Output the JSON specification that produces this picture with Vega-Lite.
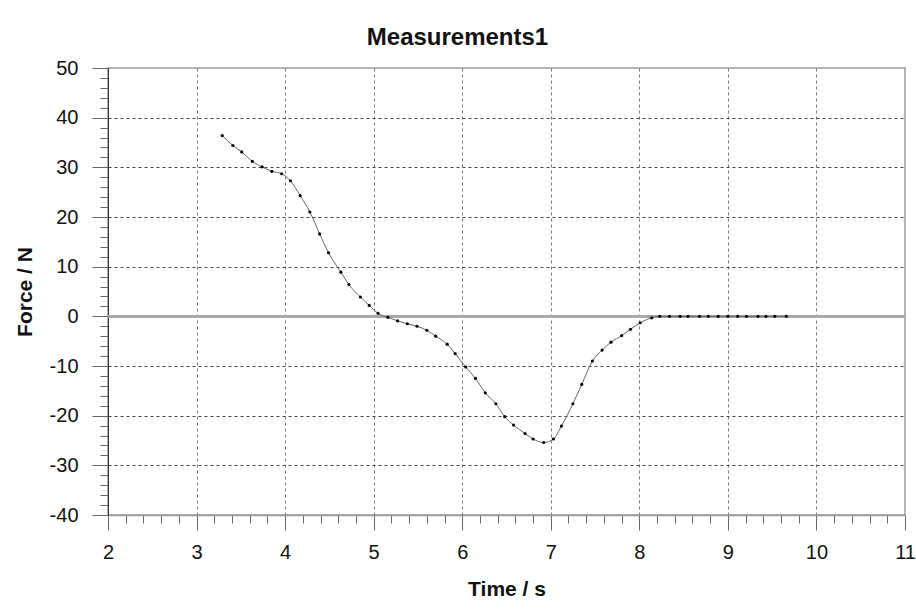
{
  "$schema": "https://vega.github.io/schema/vega-lite/v6.json",
  "autosize": {"type": "none"},
  "padding": {"left": 108, "top": 68, "right": 11, "bottom": 97},
  "width": 797,
  "height": 447,
  "background": "white",
  "config": {"font": "Liberation Sans", "view": {"stroke": "#9a9a9a", "strokeWidth": 1.5}},
  "title": {"text": "Measurements1", "fontSize": 24, "fontWeight": "bold", "color": "#111", "anchor": "middle", "dx": -49, "offset": 8},
  "data": {"values": [
      {"t": 3.29, "f": 36.4}, {"t": 3.41, "f": 34.4}, {"t": 3.51, "f": 33.1}, {"t": 3.63, "f": 31.2},
      {"t": 3.74, "f": 30.1}, {"t": 3.85, "f": 29.2}, {"t": 3.96, "f": 28.7}, {"t": 4.06, "f": 27.3},
      {"t": 4.17, "f": 24.3}, {"t": 4.28, "f": 21.0}, {"t": 4.39, "f": 16.6}, {"t": 4.49, "f": 12.8},
      {"t": 4.63, "f": 8.9}, {"t": 4.72, "f": 6.4}, {"t": 4.85, "f": 3.9}, {"t": 4.95, "f": 2.2},
      {"t": 5.05, "f": 0.6}, {"t": 5.16, "f": -0.2}, {"t": 5.27, "f": -0.9}, {"t": 5.38, "f": -1.5},
      {"t": 5.49, "f": -2.0}, {"t": 5.60, "f": -2.8}, {"t": 5.70, "f": -4.0}, {"t": 5.83, "f": -5.6},
      {"t": 5.92, "f": -7.5}, {"t": 6.04, "f": -10.2}, {"t": 6.15, "f": -12.5}, {"t": 6.26, "f": -15.4},
      {"t": 6.38, "f": -17.6}, {"t": 6.48, "f": -20.2}, {"t": 6.58, "f": -21.9}, {"t": 6.71, "f": -23.6},
      {"t": 6.80, "f": -24.7}, {"t": 6.92, "f": -25.4}, {"t": 7.03, "f": -24.7}, {"t": 7.12, "f": -22.1},
      {"t": 7.25, "f": -17.6}, {"t": 7.35, "f": -13.7}, {"t": 7.47, "f": -9.0}, {"t": 7.58, "f": -6.8},
      {"t": 7.68, "f": -5.2}, {"t": 7.80, "f": -3.9}, {"t": 7.90, "f": -2.6}, {"t": 8.01, "f": -1.3},
      {"t": 8.14, "f": -0.3}, {"t": 8.23, "f": 0}, {"t": 8.34, "f": 0}, {"t": 8.46, "f": 0},
      {"t": 8.55, "f": 0}, {"t": 8.68, "f": 0}, {"t": 8.78, "f": 0}, {"t": 8.89, "f": 0},
      {"t": 9.00, "f": 0}, {"t": 9.11, "f": 0}, {"t": 9.21, "f": 0}, {"t": 9.34, "f": 0},
      {"t": 9.43, "f": 0}, {"t": 9.53, "f": 0}, {"t": 9.66, "f": 0}
  ]},
  "encoding": {
    "x": {"field": "t", "type": "quantitative", "scale": {"domain": [2, 11], "nice": false, "zero": false},
      "axis": {
        "title": "Time / s",
        "values": [2,2.2,2.4,2.6,2.8,3,3.2,3.4,3.6,3.8,4,4.2,4.4,4.6,4.8,5,5.2,5.4,5.6,5.8,6,6.2,6.4,6.6,6.8,7,7.2,7.4,7.6,7.8,8,8.2,8.4,8.6,8.8,9,9.2,9.4,9.6,9.8,10,10.2,10.4,10.6,10.8,11],
        "tickCount": 200,
        "grid": true,
        "gridColor": "#777",
        "gridDash": [3, 3],
        "gridOpacity": {"condition": {"test": "abs(datum.value - round(datum.value)) > 0.01 || datum.value == 2 || datum.value == 11", "value": 0}, "value": 1},
        "tickSize": {"condition": {"test": "abs(datum.value - round(datum.value)) > 0.01", "value": 8}, "value": 15},
        "tickColor": "#666",
        "domainColor": "#999",
        "domainWidth": 1.5,
        "labelExpr": "abs(datum.value - round(datum.value)) > 0.01 ? '' : '' + round(datum.value)",
        "labelOverlap": false,
        "labelFlush": false,
        "labelBound": false,
        "labelFontSize": 20,
        "labelPadding": 12,
        "labelColor": "#111",
        "titleFontSize": 21,
        "titleFontWeight": "bold",
        "titleColor": "#111",
        "titlePadding": 16
      }
    },
    "y": {"field": "f", "type": "quantitative", "scale": {"domain": [-40, 50], "nice": false},
      "axis": {
        "title": "Force / N",
        "values": [-40,-38,-36,-34,-32,-30,-28,-26,-24,-22,-20,-18,-16,-14,-12,-10,-8,-6,-4,-2,0,2,4,6,8,10,12,14,16,18,20,22,24,26,28,30,32,34,36,38,40,42,44,46,48,50],
        "tickCount": 200,
        "grid": true,
        "gridColor": "#444",
        "gridDash": [3, 3],
        "gridOpacity": {"condition": {"test": "datum.value % 10 != 0 || datum.value == 0 || datum.value == 50 || datum.value == -40", "value": 0}, "value": 1},
        "tickSize": {"condition": {"test": "datum.value % 10 != 0", "value": 8}, "value": 16},
        "tickColor": "#666",
        "domainColor": "#333",
        "domainWidth": 1,
        "labelExpr": "datum.value % 10 != 0 ? '' : '' + datum.value",
        "labelOverlap": false,
        "labelFlush": false,
        "labelBound": false,
        "labelFontSize": 20,
        "labelPadding": 14,
        "labelColor": "#111",
        "titleFontSize": 21,
        "titleFontWeight": "bold",
        "titleColor": "#111",
        "titlePadding": 14
      }
    }
  },
  "layer": [
    {
      "mark": {"type": "rule", "color": "#a8a8a8", "strokeWidth": 2},
      "encoding": {"y": {"datum": 0, "type": "quantitative"}, "x": {"value": 0}, "x2": {"value": 797}}
    },
    {
      "mark": {"type": "line", "color": "#666", "strokeWidth": 1, "interpolate": "monotone"}
    },
    {
      "mark": {"type": "point", "filled": true, "color": "#000", "size": 10, "opacity": 1}
    }
  ]
}
